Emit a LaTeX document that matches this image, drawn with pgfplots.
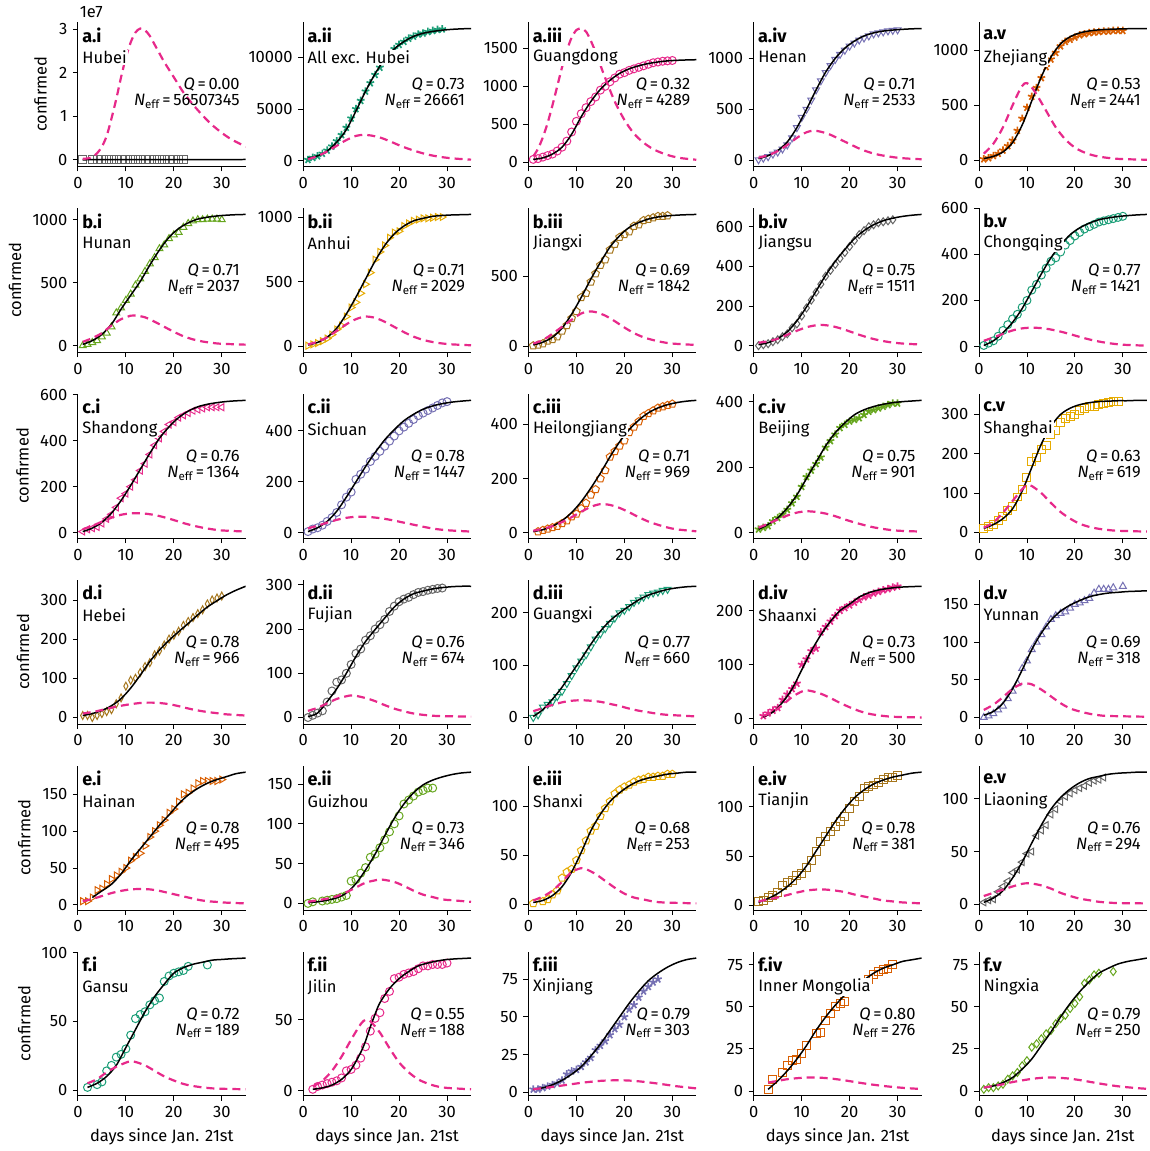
\documentclass[border=0pt]{standalone}
\usepackage{fontspec}
\setmainfont{Fira Sans}
\usepackage{pgfplots}
\pgfplotsset{compat=1.18}
\definecolor{cgray}{HTML}{666666}
\definecolor{cteal}{HTML}{1B9E77}
\definecolor{cpink}{HTML}{E7298A}
\definecolor{cpurp}{HTML}{7570B3}
\definecolor{corng}{HTML}{D95F02}
\definecolor{cgrn}{HTML}{66A61E}
\definecolor{cyel}{HTML}{E6AB02}
\definecolor{cbrn}{HTML}{A6761D}
\pgfplotsset{
 P/.style={scale only axis, width=168pt, height=144.5pt, anchor=south west,
  xmin=0, xmax=35, xtick={0,10,20,30}, enlarge y limits=0.05,
  axis x line*=bottom, axis y line*=left, axis line style={-, line width=0.9pt},
  tick align=outside, major tick length=5pt, tick style={line width=0.9pt, black},
  clip mode=individual, scaled y ticks=false,
  /pgf/number format/.cd, 1000 sep={}, assume math mode=true},
 fit/.style={black, line width=1.5pt, smooth, no marks},
 sir/.style={color=cpink, line width=2.2pt, dash pattern=on 8pt off 5pt, smooth, no marks},
 dat/.style={only marks, line width=1pt, mark size=4pt},
 st/.style={mark=star, mark options={line width=1.7pt}},
}
\newcommand{\pn}[4]{%
 \node[anchor=west,font=\bfseries\fontsize{18}{20}\selectfont,inner sep=0pt] at (rel axis cs:0.025,0.91) {#1};
 \node[anchor=west,fill=white,inner sep=1pt] at (rel axis cs:0.02,0.755) {#2};
 \node[anchor=east,inner sep=0pt] at (rel axis cs:0.965,0.565) {\textit{Q}\,=\,#3};
 \node[anchor=east,inner sep=0pt] at (rel axis cs:0.965,0.45) {\textit{N}\textsubscript{eff}\,=\,#4};}
\begin{document}
\fontsize{16.5}{19}\selectfont
\begin{tikzpicture}[font=\fontsize{16.5}{19}\selectfont]
\path (0pt,0pt) rectangle (1151pt,1151pt);
% ---------------- row a
\begin{axis}[P, at={(78pt,984.5pt)}, ytick={0,1,2,3}, ylabel={confirmed}]
\addplot[dat, cgray, mark=square, mark options={fill=cgray!25}] coordinates {(1,0.00003)(3,0.00005)(4,0.00007)(5,0.0001)(6,0.00015)(7,0.0002)(8,0.0003)(9,0.0004)(10,0.0005)(11,0.0007)(12,0.0009)(13,0.0011)(14,0.0014)(15,0.0017)(16,0.002)(17,0.0023)(18,0.0027)(19,0.003)(20,0.0033)(21,0.0036)(22,0.0048)};
\addplot[fit] coordinates {(1,0)(35,0.006)};
\addplot[sir] coordinates {(1,0.02)(2,0.03)(3,0.06)(4,0.15)(5,0.3)(6,0.55)(7,0.95)(8,1.4)(9,1.9)(10,2.35)(11,2.7)(12,2.93)(13,3.02)(14,2.98)(15,2.85)(16,2.65)(17,2.45)(18,2.25)(20,1.9)(22,1.55)(24,1.27)(26,1.02)(28,0.8)(30,0.62)(32,0.47)(35,0.3)};
\pn{a.i}{Hubei}{0.00}{56507345}
\node[anchor=south west, inner sep=0pt] at (rel axis cs:0.01,1.03) {1e7};
\end{axis}
\begin{axis}[P, at={(303.5pt,984.5pt)}, ytick={0,5000,10000}]
\addplot[dat, cteal, st] coordinates {(1,100)(2,300)(3,450)(4,700)(5,1000)(6,1400)(7,1900)(8,2500)(9,3200)(10,4100)(11,5000)(12,5800)(13,6700)(14,7500)(15,8300)(16,9000)(17,9800)(18,10300)(19,10800)(20,11200)(21,11500)(22,11800)(23,12000)(24,12200)(25,12300)(26,12450)(27,12550)(28,12650)(29,12700)};
\addplot[fit] coordinates {(1,250)(3,480)(5,950)(7,1800)(9,3000)(11,4800)(13,6700)(15,8400)(17,9800)(19,10800)(21,11500)(23,12000)(25,12300)(27,12480)(29,12600)(31,12680)(33,12730)(35,12760)};
\addplot[sir] coordinates {(1,150)(3,450)(5,900)(7,1450)(9,2000)(11,2400)(12.5,2500)(14,2450)(16,2250)(18,1900)(20,1500)(22,1150)(24,850)(26,600)(28,420)(30,290)(32,200)(35,110)};
\pn{a.ii}{All exc. Hubei}{0.73}{26661}
\end{axis}
\begin{axis}[P, at={(529pt,984.5pt)}, ytick={0,500,1000,1500}]
\addplot[dat, cpink, mark=o] coordinates {(1,40)(2,50)(3,70)(4,90)(5,110)(6,150)(7,200)(8,280)(9,400)(10,540)(11,640)(12,720)(13,800)(14,860)(15,950)(16,1000)(17,1060)(18,1110)(19,1160)(20,1180)(21,1210)(22,1230)(23,1250)(24,1270)(25,1290)(26,1310)(27,1320)(28,1330)(29,1335)(30,1340)};
\addplot[fit] coordinates {(1,40)(3,60)(5,110)(7,200)(9,370)(11,600)(13,800)(15,960)(17,1080)(19,1170)(21,1230)(23,1270)(25,1300)(27,1320)(29,1335)(31,1342)(33,1347)(35,1350)};
\addplot[sir] coordinates {(1,80)(2,180)(3,330)(4,520)(5,750)(6,1000)(7,1250)(8,1470)(9,1640)(10,1740)(11,1760)(12,1720)(13,1600)(14,1450)(15,1280)(16,1110)(18,800)(20,560)(22,380)(24,260)(26,175)(28,120)(30,80)(32,55)(35,35)};
\pn{a.iii}{Guangdong}{0.32}{4289}
\end{axis}
\begin{axis}[P, at={(754.5pt,984.5pt)}, ytick={0,500,1000}]
\addplot[dat, cpurp, mark=triangle, mark options={rotate=180}] coordinates {(1,5)(2,20)(3,35)(4,60)(5,80)(6,110)(7,150)(8,220)(9,320)(10,420)(11,500)(12,590)(13,690)(14,780)(15,860)(16,930)(17,990)(18,1040)(19,1080)(20,1120)(21,1150)(22,1180)(23,1200)(24,1220)(25,1240)(26,1250)(27,1260)(28,1270)(29,1275)(30,1280)};
\addplot[fit] coordinates {(1,15)(3,45)(5,95)(7,180)(9,320)(11,500)(13,690)(15,865)(17,1000)(19,1100)(21,1170)(23,1220)(25,1250)(27,1268)(29,1278)(31,1285)(33,1290)(35,1293)};
\addplot[sir] coordinates {(1,25)(3,50)(5,90)(7,150)(9,220)(11,275)(12.5,290)(14,280)(16,250)(18,205)(20,160)(22,115)(24,80)(26,55)(28,38)(30,25)(32,17)(35,10)};
\pn{a.iv}{Henan}{0.71}{2533}
\end{axis}
\begin{axis}[P, at={(980pt,984.5pt)}, ytick={0,500,1000}]
\addplot[dat, corng, st] coordinates {(1,10)(2,20)(3,40)(4,60)(5,90)(6,130)(7,180)(8,270)(9,380)(10,480)(11,580)(12,660)(13,750)(14,850)(15,920)(16,980)(17,1040)(18,1080)(19,1100)(20,1120)(21,1140)(22,1150)(23,1160)(24,1165)(25,1170)(26,1175)(27,1175)(28,1180)(29,1180)(30,1180)};
\addplot[fit] coordinates {(1,15)(3,35)(5,75)(7,160)(9,320)(11,540)(13,760)(15,940)(17,1060)(19,1125)(21,1160)(23,1178)(25,1188)(27,1193)(29,1196)(31,1198)(33,1199)(35,1200)};
\addplot[sir] coordinates {(1,60)(3,150)(5,300)(7,500)(8.5,640)(9.5,700)(10.5,690)(12,600)(14,450)(16,300)(18,190)(20,115)(22,70)(24,42)(26,26)(28,16)(30,10)(35,4)};
\pn{a.v}{Zhejiang}{0.53}{2441}
\end{axis}
% ---------------- row b
\begin{axis}[P, at={(78pt,798.4pt)}, ytick={0,500,1000}, ylabel={confirmed}]
\addplot[dat, cgrn, mark=triangle] coordinates {(1,0)(2,10)(3,25)(4,40)(5,70)(6,100)(7,150)(8,260)(9,300)(10,360)(11,410)(12,480)(13,530)(14,590)(15,650)(16,700)(17,770)(18,800)(19,850)(20,880)(21,900)(22,940)(23,970)(24,990)(25,1000)(26,1000)(27,1005)(28,1005)(29,1005)(30,1000)};
\addplot[fit] coordinates {(1,10)(3,40)(5,90)(7,170)(9,290)(11,400)(13,510)(15,640)(17,760)(19,860)(21,930)(23,975)(25,1005)(27,1020)(29,1030)(31,1036)(33,1040)(35,1042)};
\addplot[sir] coordinates {(1,30)(3,60)(5,100)(7,160)(9,210)(11,238)(12,240)(14,225)(16,190)(18,150)(20,110)(22,75)(24,50)(26,33)(28,22)(30,15)(35,8)};
\pn{b.i}{Hunan}{0.71}{2037}
\end{axis}
\begin{axis}[P, at={(303.5pt,798.4pt)}, ytick={0,500,1000}]
\addplot[dat, cyel, mark=triangle, mark options={rotate=-90}] coordinates {(1,5)(2,15)(3,25)(4,40)(5,60)(6,90)(7,130)(8,160)(9,230)(10,300)(11,340)(12,410)(13,480)(14,570)(15,670)(16,730)(17,780)(18,840)(19,880)(20,890)(21,930)(22,950)(23,970)(24,980)(25,990)(26,990)(27,995)(28,1000)(29,1000)};
\addplot[fit] coordinates {(1,10)(3,30)(5,70)(7,140)(9,250)(11,380)(13,520)(15,660)(17,780)(19,870)(21,930)(23,970)(25,990)(27,1005)(29,1012)(31,1016)(33,1018)(35,1020)};
\addplot[sir] coordinates {(1,15)(3,35)(5,70)(7,120)(9,170)(11,210)(13,230)(15,220)(17,190)(19,150)(21,110)(23,75)(25,50)(27,33)(29,22)(31,15)(35,8)};
\pn{b.ii}{Anhui}{0.71}{2029}
\end{axis}
\begin{axis}[P, at={(529pt,798.4pt)}, ytick={0,500,1000}]
\addplot[dat, cbrn, mark=pentagon] coordinates {(1,5)(2,10)(3,20)(4,40)(5,50)(6,70)(7,110)(8,150)(9,200)(10,250)(11,350)(12,380)(13,460)(14,520)(15,580)(16,620)(17,690)(18,730)(19,780)(20,800)(21,820)(22,860)(23,870)(24,900)(25,910)(26,920)(27,930)(28,930)(29,935)};
\addplot[fit] coordinates {(1,10)(3,30)(5,65)(7,130)(9,230)(11,350)(13,480)(15,600)(17,710)(19,790)(21,850)(23,885)(25,910)(27,925)(29,933)(31,938)(33,941)(35,943)};
\addplot[sir] coordinates {(1,20)(3,45)(5,90)(7,140)(9,190)(11,235)(12.5,250)(14,245)(16,220)(18,180)(20,135)(22,95)(24,65)(26,45)(28,30)(30,20)(35,10)};
\pn{b.iii}{Jiangxi}{0.69}{1842}
\end{axis}
\begin{axis}[P, at={(754.5pt,798.4pt)}, ytick={0,200,400,600}]
\addplot[dat, cgray, mark=diamond] coordinates {(1,0)(2,5)(3,10)(4,20)(5,30)(6,45)(7,60)(8,90)(9,110)(10,150)(11,190)(12,230)(13,270)(14,310)(15,350)(16,380)(17,410)(18,440)(19,470)(20,500)(21,530)(22,560)(23,580)(24,600)(25,610)(26,620)(27,625)(28,630)(29,635)};
\addplot[fit] coordinates {(1,5)(3,15)(5,35)(7,70)(9,125)(11,195)(13,275)(15,355)(17,425)(19,485)(21,540)(23,580)(25,610)(27,630)(29,643)(31,652)(33,658)(35,662)};
\addplot[sir] coordinates {(1,15)(3,22)(5,35)(7,55)(9,75)(11,93)(13,103)(14,105)(16,100)(18,88)(20,72)(22,55)(24,40)(26,28)(28,19)(30,13)(32,9)(35,6)};
\pn{b.iv}{Jiangsu}{0.75}{1511}
\end{axis}
\begin{axis}[P, at={(980pt,798.4pt)}, ytick={0,200,400,600}]
\addplot[dat, cteal, mark=o] coordinates {(1,5)(2,15)(3,25)(4,45)(5,70)(6,95)(7,120)(8,140)(9,170)(10,200)(11,245)(12,270)(13,310)(14,340)(15,370)(16,385)(17,410)(18,440)(19,460)(20,480)(21,495)(22,510)(23,520)(24,530)(25,540)(26,545)(27,550)(28,555)(29,560)(30,565)};
\addplot[fit] coordinates {(1,5)(3,25)(5,60)(7,105)(9,165)(11,240)(13,315)(15,385)(17,440)(19,485)(21,515)(23,535)(25,550)(27,558)(29,564)(31,568)(33,571)(35,573)};
\addplot[sir] coordinates {(1,25)(3,40)(5,55)(7,70)(9,79)(11,82)(13,80)(15,74)(17,65)(19,54)(21,42)(23,31)(25,22)(27,15)(29,10)(31,7)(35,4)};
\pn{b.v}{Chongqing}{0.77}{1421}
\end{axis}
% ---------------- row c
\begin{axis}[P, at={(78pt,612.3pt)}, ytick={0,200,400,600}, ylabel={confirmed}]
\addplot[dat, cpink, mark=triangle, mark options={rotate=90}] coordinates {(1,5)(2,15)(3,20)(4,25)(5,40)(6,60)(7,80)(8,110)(9,150)(10,170)(11,200)(12,230)(13,270)(14,300)(15,340)(16,380)(17,410)(18,440)(19,470)(20,480)(21,500)(22,510)(23,520)(24,530)(25,535)(26,540)(27,545)(28,545)(29,545)(30,545)};
\addplot[fit] coordinates {(1,5)(3,20)(5,45)(7,85)(9,140)(11,205)(13,275)(15,345)(17,410)(19,460)(21,500)(23,528)(25,547)(27,558)(29,565)(31,570)(33,573)(35,575)};
\addplot[sir] coordinates {(1,15)(3,30)(5,48)(7,65)(9,78)(11,84)(12.5,85)(14,83)(16,77)(18,67)(20,55)(22,42)(24,31)(26,22)(28,15)(30,10)(35,5)};
\pn{c.i}{Shandong}{0.76}{1364}
\end{axis}
\begin{axis}[P, at={(303.5pt,612.3pt)}, ytick={0,200,400}]
\addplot[dat, cpurp, mark=o] coordinates {(1,5)(2,15)(3,20)(4,30)(5,45)(6,60)(7,80)(8,110)(9,140)(10,160)(11,210)(12,230)(13,250)(14,280)(15,300)(16,320)(17,340)(18,360)(19,380)(20,400)(21,415)(22,430)(23,445)(24,460)(25,470)(26,480)(27,490)(28,500)(29,510)(30,515)};
\addplot[fit] coordinates {(1,5)(3,20)(5,45)(7,85)(9,140)(11,200)(13,260)(15,315)(17,365)(19,405)(21,440)(23,465)(25,485)(27,498)(29,507)(31,513)(33,517)(35,520)};
\addplot[sir] coordinates {(1,18)(3,28)(5,40)(7,51)(9,59)(11,63)(13,63)(15,60)(17,55)(19,48)(21,40)(23,32)(25,24)(27,17)(29,12)(31,9)(35,5)};
\pn{c.ii}{Sichuan}{0.78}{1447}
\end{axis}
\begin{axis}[P, at={(529pt,612.3pt)}, ytick={0,200,400}]
\addplot[dat, corng, mark=pentagon] coordinates {(2,5)(3,10)(4,15)(5,20)(6,25)(7,35)(8,45)(9,60)(10,70)(11,90)(12,110)(13,140)(14,160)(15,200)(16,230)(17,280)(18,300)(19,320)(20,340)(21,370)(22,390)(23,410)(24,430)(25,440)(26,450)(27,460)(28,465)(29,470)(30,475)};
\addplot[fit] coordinates {(1,5)(3,12)(5,25)(7,45)(9,75)(11,115)(13,165)(15,220)(17,280)(19,335)(21,380)(23,415)(25,442)(27,460)(29,472)(31,480)(33,485)(35,488)};
\addplot[sir] coordinates {(1,8)(3,15)(5,25)(7,40)(9,58)(11,78)(13,96)(15,106)(17,103)(19,92)(21,76)(23,58)(25,42)(27,30)(29,20)(31,13)(35,6)};
\pn{c.iii}{Heilongjiang}{0.71}{969}
\end{axis}
\begin{axis}[P, at={(754.5pt,612.3pt)}, ytick={0,200,400}]
\addplot[dat, cgrn, st] coordinates {(1,10)(2,15)(3,20)(4,35)(5,45)(6,55)(7,70)(8,90)(9,110)(10,140)(11,170)(12,190)(13,210)(14,230)(15,260)(16,280)(17,300)(18,320)(19,330)(20,340)(21,345)(22,350)(23,360)(24,370)(25,375)(26,380)(27,385)(28,390)(29,395)(30,395)};
\addplot[fit] coordinates {(1,10)(3,25)(5,45)(7,75)(9,115)(11,165)(13,215)(15,265)(17,305)(19,335)(21,360)(23,375)(25,385)(27,392)(29,397)(31,400)(33,402)(35,404)};
\addplot[sir] coordinates {(1,15)(3,27)(5,40)(7,52)(9,61)(11,65)(13,63)(15,58)(17,50)(19,40)(21,31)(23,23)(25,16)(27,11)(29,7)(31,5)(35,3)};
\pn{c.iv}{Beijing}{0.75}{901}
\end{axis}
\begin{axis}[P, at={(980pt,612.3pt)}, ytick={0,100,200,300}]
\addplot[dat, cyel, mark=square] coordinates {(1,10)(2,15)(3,20)(4,30)(5,40)(6,55)(7,65)(8,90)(9,110)(10,140)(11,180)(12,190)(13,210)(14,220)(15,250)(16,260)(17,280)(18,290)(19,295)(20,300)(21,310)(22,315)(23,320)(24,320)(25,325)(26,328)(27,330)(28,332)(29,333)};
\addplot[fit] coordinates {(1,10)(3,20)(5,35)(7,60)(9,105)(11,165)(13,225)(15,270)(17,300)(19,316)(21,325)(23,330)(25,333)(27,334)(29,335)(31,335)(33,336)(35,336)};
\addplot[sir] coordinates {(1,12)(3,25)(5,50)(7,80)(9,110)(10,120)(11,118)(13,100)(15,75)(17,52)(19,35)(21,22)(23,14)(25,9)(27,6)(29,4)(35,2)};
\pn{c.v}{Shanghai}{0.63}{619}
\end{axis}
% ---------------- row d
\begin{axis}[P, at={(78pt,426.2pt)}, ytick={0,100,200,300}, ylabel={confirmed}]
\addplot[dat, cbrn, mark=diamond, mark options={xscale=0.7}] coordinates {(1,5)(2,5)(3,0)(4,5)(5,10)(6,15)(7,20)(8,35)(9,50)(10,80)(11,95)(12,100)(13,115)(14,130)(15,140)(16,160)(17,170)(18,185)(19,200)(20,210)(21,220)(22,235)(23,245)(24,255)(25,265)(26,275)(27,290)(28,300)(29,305)(30,310)};
\addplot[fit] coordinates {(1,5)(3,10)(5,18)(7,30)(9,48)(11,75)(13,108)(15,143)(17,172)(19,197)(21,219)(23,240)(25,262)(27,282)(29,298)(31,313)(33,325)(35,335)};
\addplot[sir] coordinates {(1,10)(3,14)(5,19)(7,25)(9,30)(11,34)(13,37)(15,38)(17,37)(19,34)(21,29)(23,23)(25,18)(27,14)(29,11)(31,8)(35,5)};
\pn{d.i}{Hebei}{0.78}{966}
\end{axis}
\begin{axis}[P, at={(303.5pt,426.2pt)}, ytick={0,100,200,300}]
\addplot[dat, cgray, mark=o] coordinates {(1,0)(2,5)(3,10)(4,15)(5,35)(6,60)(7,80)(8,85)(9,100)(10,120)(11,145)(12,155)(13,175)(14,185)(15,200)(16,210)(17,222)(18,240)(19,252)(20,262)(21,268)(22,272)(23,278)(24,283)(25,285)(26,288)(27,290)(28,292)(29,293)};
\addplot[fit] coordinates {(1,2)(3,10)(5,36)(7,65)(9,100)(11,138)(13,172)(15,199)(17,225)(19,250)(21,268)(23,280)(25,286)(27,291)(29,294)(31,296)(33,297)(35,297)};
\addplot[sir] coordinates {(1,15)(3,22)(5,32)(7,42)(9,48)(10,50)(11,49)(13,44)(15,37)(17,28)(19,20)(21,14)(23,9)(25,6)(27,4)(29,3)(35,2)};
\pn{d.ii}{Fujian}{0.76}{674}
\end{axis}
\begin{axis}[P, at={(529pt,426.2pt)}, ytick={0,100,200}]
\addplot[dat, cteal, mark=triangle, mark options={rotate=180}] coordinates {(1,0)(2,5)(3,20)(4,25)(5,30)(6,40)(7,50)(8,65)(9,80)(10,95)(11,108)(12,120)(13,135)(14,150)(15,160)(16,170)(17,180)(18,190)(19,200)(20,205)(21,212)(22,220)(23,225)(24,230)(25,235)(26,238)(27,240)(28,243)(29,245)};
\addplot[fit] coordinates {(1,2)(3,15)(5,35)(7,58)(9,85)(11,112)(13,140)(15,165)(17,185)(19,200)(21,213)(23,225)(25,234)(27,240)(29,245)(31,248)(33,250)(35,251)};
\addplot[sir] coordinates {(1,12)(3,18)(5,24)(7,29)(9,32)(11,33)(13,32)(15,30)(17,26)(19,22)(21,17)(23,13)(25,10)(27,7)(29,5)(31,4)(35,2)};
\pn{d.iii}{Guangxi}{0.77}{660}
\end{axis}
\begin{axis}[P, at={(754.5pt,426.2pt)}, ytick={0,100,200}]
\addplot[dat, cpink, st] coordinates {(2,5)(3,10)(4,15)(5,20)(6,35)(7,45)(8,55)(9,65)(10,100)(11,110)(12,125)(13,130)(14,160)(15,170)(16,180)(17,190)(18,200)(19,205)(20,210)(21,215)(22,220)(23,225)(24,228)(25,232)(26,235)(27,238)(28,240)(29,243)(30,245)};
\addplot[fit] coordinates {(2,3)(4,12)(6,30)(8,55)(10,90)(12,125)(14,155)(16,180)(18,200)(20,212)(22,225)(24,233)(26,238)(28,241)(30,243)(32,244)(35,245)};
\addplot[sir] coordinates {(2,5)(4,12)(6,25)(8,40)(10,50)(11,52)(12,51)(14,46)(16,38)(18,29)(20,21)(22,14)(24,9)(26,6)(28,4)(30,3)(35,2)};
\pn{d.iv}{Shaanxi}{0.73}{500}
\end{axis}
\begin{axis}[P, at={(980pt,426.2pt)}, ytick={0,50,100,150}]
\addplot[dat, cpurp, mark=triangle] coordinates {(1,0)(2,2)(3,5)(4,10)(5,15)(6,25)(7,35)(8,45)(9,65)(10,75)(11,90)(12,100)(13,110)(14,120)(15,130)(16,135)(17,138)(18,140)(19,145)(20,150)(21,152)(22,155)(23,158)(24,165)(25,170)(26,170)(27,170)(28,172)(30,174)};
\addplot[fit] coordinates {(1,3)(3,8)(5,19)(7,38)(9,63)(11,90)(13,112)(15,129)(17,141)(19,149)(21,155)(23,160)(25,163)(27,165)(29,166)(31,167)(33,167.5)(35,168)};
\addplot[sir] coordinates {(1,10)(3,17)(5,27)(7,38)(9,45)(10,45)(11,44)(13,37)(15,28)(17,19)(19,12)(21,8)(23,5)(25,3)(27,2)(35,1)};
\pn{d.v}{Yunnan}{0.69}{318}
\end{axis}
% ---------------- row e
\begin{axis}[P, at={(78pt,240.1pt)}, ytick={0,50,100,150}, ylabel={confirmed}]
\addplot[dat, corng, mark=triangle, mark options={rotate=-90}] coordinates {(1,5)(2,5)(3,10)(4,20)(5,22)(6,28)(7,35)(8,40)(9,45)(10,50)(11,60)(12,65)(13,70)(14,80)(15,92)(16,100)(17,108)(18,115)(19,125)(20,130)(21,140)(22,150)(23,152)(24,158)(25,165)(26,168)(27,168)(28,168)(29,168)(30,170)};
\addplot[fit] coordinates {(3,10)(5,19)(7,28)(9,42)(11,60)(13,76)(15,92)(17,108)(19,122)(21,137)(23,149)(25,158)(27,165)(29,170)(31,174)(33,178)(35,180)};
\addplot[sir] coordinates {(1,5)(3,8)(5,12)(7,16)(9,19)(11,21)(13,21.5)(15,21)(17,19)(19,16)(21,13)(23,10)(25,7)(27,5)(29,4)(31,3)(35,2)};
\pn{e.i}{Hainan}{0.78}{495}
\end{axis}
\begin{axis}[P, at={(303.5pt,240.1pt)}, ytick={0,50,100,150}]
\addplot[dat, cgrn, mark=o] coordinates {(1,0)(2,2)(4,3)(5,4)(6,5)(7,6)(8,8)(9,10)(10,28)(11,30)(12,38)(13,45)(14,58)(15,62)(16,70)(17,80)(18,90)(19,100)(20,110)(21,125)(22,130)(23,135)(24,140)(25,142)(26,145)(27,145)};
\addplot[fit] coordinates {(1,1)(3,2)(5,4)(7,7)(9,13)(11,25)(13,42)(15,62)(17,85)(19,107)(21,125)(23,139)(25,149)(27,155)(29,159)(31,162)(33,164)(35,165)};
\addplot[sir] coordinates {(1,2)(3,4)(5,6)(7,9)(9,14)(11,20)(13,26)(15,29)(16,30)(17,29.5)(19,27)(21,22)(23,16)(25,11)(27,8)(29,5)(31,4)(35,2)};
\pn{e.ii}{Guizhou}{0.73}{346}
\end{axis}
\begin{axis}[P, at={(529pt,240.1pt)}, ytick={0,50,100}]
\addplot[dat, cyel, mark=pentagon] coordinates {(1,1)(3,3)(4,5)(5,10)(6,14)(7,27)(8,33)(9,36)(10,45)(11,55)(12,65)(13,75)(14,80)(15,90)(16,98)(17,105)(18,113)(19,117)(20,120)(21,122)(22,125)(23,127)(24,128)(25,130)(26,130)(27,131)(28,131)(29,133)(30,133)};
\addplot[fit] coordinates {(1,2)(3,4)(5,9)(7,18)(9,33)(11,53)(13,75)(15,92)(17,105)(19,114)(21,121)(23,126)(25,129)(27,131)(29,133)(31,134)(33,135)(35,135)};
\addplot[sir] coordinates {(1,4)(3,8)(5,14)(7,23)(9,33)(11,37)(12,36)(14,31)(16,24)(18,17)(20,11)(22,7)(24,5)(26,3)(28,2)(35,1)};
\pn{e.iii}{Shanxi}{0.68}{253}
\end{axis}
\begin{axis}[P, at={(754.5pt,240.1pt)}, ytick={0,50,100}]
\addplot[dat, cbrn, mark=square] coordinates {(1,4)(2,5)(3,8)(4,10)(5,13)(6,20)(7,23)(8,25)(9,30)(10,32)(11,38)(12,45)(13,55)(14,65)(15,70)(16,75)(17,80)(18,85)(19,90)(20,98)(21,105)(22,110)(23,118)(24,120)(25,122)(26,125)(27,128)(28,130)(29,130)(30,132)};
\addplot[fit] coordinates {(1,3)(3,7)(5,12)(7,19)(9,28)(11,40)(13,55)(15,70)(17,85)(19,98)(21,109)(23,117)(25,123)(27,127)(29,130)(31,132)(33,134)(35,135)};
\addplot[sir] coordinates {(1,4)(3,6)(5,8)(7,10.5)(9,13)(11,15)(13,16)(15,16)(17,15)(19,13.5)(21,11)(23,9)(25,7)(27,5)(29,4)(31,3)(35,2)};
\pn{e.iv}{Tianjin}{0.78}{381}
\end{axis}
\begin{axis}[P, at={(980pt,240.1pt)}, ytick={0,50,100}]
\addplot[dat, cgray, mark=triangle, mark options={rotate=90}] coordinates {(1,2)(2,4)(3,5)(4,12)(5,17)(6,22)(7,30)(8,33)(9,40)(10,48)(11,50)(12,65)(13,70)(14,75)(15,85)(16,90)(17,97)(18,102)(19,105)(20,108)(21,110)(22,112)(23,115)(24,117)(25,118)(26,120)};
\addplot[fit] coordinates {(1,2)(3,6)(5,13)(7,25)(9,40)(11,58)(13,75)(15,90)(17,101)(19,109)(21,115)(23,119)(25,121)(27,123)(29,124)(31,124.5)(33,125)(35,125)};
\addplot[sir] coordinates {(1,8)(3,11)(5,14)(7,17)(9,19.5)(10,20)(11,19.8)(13,18)(15,15)(17,11)(19,8)(21,5.5)(23,4)(25,2.5)(27,1.8)(29,1.3)(35,1)};
\pn{e.v}{Liaoning}{0.76}{294}
\end{axis}
% ---------------- row f
\begin{axis}[P, at={(78pt,54pt)}, ytick={0,50,100}, ylabel={confirmed}, xlabel={days since Jan. 21st}]
\addplot[dat, cteal, mark=o] coordinates {(2,2)(4,4)(5,6)(6,14)(7,18)(8,24)(9,26)(10,30)(11,40)(12,52)(13,55)(14,57)(15,62)(16,65)(17,67)(18,79)(19,83)(20,85)(21,86)(22,87)(23,90)(27,91)};
\addplot[fit] coordinates {(2,2)(4,5)(6,10)(8,18)(10,31)(12,44)(14,57)(16,68)(18,77)(20,85)(22,89)(24,91.5)(26,93)(28,94.5)(30,95)(32,95.5)(35,96)};
\addplot[sir] coordinates {(2,5)(4,8)(6,13)(8,17)(10,20)(11,21)(12,20.5)(14,18)(16,14)(18,10)(20,7)(22,4.5)(24,3)(26,2)(28,1.3)(30,1)(35,0.6)};
\pn{f.i}{Gansu}{0.72}{189}
\end{axis}
\begin{axis}[P, at={(303.5pt,54pt)}, ytick={0,50}, xlabel={days since Jan. 21st}]
\addplot[dat, cpink, mark=o] coordinates {(2,1)(3,3)(4,4)(5,5)(6,6)(7,7)(8,9)(9,14)(10,15)(11,18)(12,23)(13,31)(14,42)(15,51)(16,55)(17,65)(18,70)(19,79)(20,80)(21,82)(22,83)(23,84)(24,86)(25,88)(26,88)(27,89)(28,89)(29,89)(30,90)};
\addplot[fit] coordinates {(2,1)(4,2)(6,4)(8,8)(10,15)(12,27)(13,35)(14,45)(15,54)(16,62)(18,72)(20,79)(22,84)(24,88)(26,90)(28,91.5)(30,92.5)(32,93)(35,93.5)};
\addplot[sir] coordinates {(2,3)(4,7)(6,14)(8,24)(10,36)(12,47)(13,50)(14,49)(16,41)(18,30)(20,20)(22,13)(24,8)(26,5)(28,3)(30,2)(35,1)};
\pn{f.ii}{Jilin}{0.55}{188}
\end{axis}
\begin{axis}[P, at={(529pt,54pt)}, ytick={0,25,50,75}, xlabel={days since Jan. 21st}]
\addplot[dat, cpurp, st] coordinates {(1,2)(2,2)(3,3)(4,4)(5,5)(6,6)(7,8)(8,12)(9,14)(10,15)(11,17)(12,20)(13,23)(14,28)(15,31)(16,34)(17,38)(18,42)(19,45)(20,50)(21,55)(22,58)(23,63)(24,67)(25,70)(26,73)(27,75)};
\addplot[fit] coordinates {(1,2)(3,3)(5,5)(7,8)(9,12)(11,17)(13,24)(15,32)(17,41)(19,50)(21,59)(23,67)(25,74)(27,79)(29,83)(31,86)(33,88)(35,89)};
\addplot[sir] coordinates {(1,2)(3,2.8)(5,3.6)(7,4.5)(9,5.4)(11,6.3)(13,7)(15,7.6)(17,7.9)(19,8)(21,7.8)(23,7.3)(25,6.6)(27,5.8)(29,4.9)(31,4)(33,3.3)(35,2.6)};
\pn{f.iii}{Xinjiang}{0.79}{303}
\end{axis}
\begin{axis}[P, at={(754.5pt,54pt)}, ytick={0,25,50,75}, xlabel={days since Jan. 21st}]
\addplot[dat, corng, mark=square] coordinates {(3,1)(4,7)(6,11)(7,15)(8,18)(9,19)(10,22)(11,27)(13,34)(14,35)(15,42)(16,46)(17,50)(18,52)(19,53)(24,66)(25,69)(26,71)(27,72)(28,73)(29,75)};
\addplot[fit] coordinates {(3,1)(5,6)(7,12)(9,19)(11,27)(13,36)(15,44)(17,51)(19,57)(21,62)(23,66)(25,70)(27,73)(29,75)(31,77)(33,78)(35,79)};
\addplot[sir] coordinates {(3,5)(5,6)(7,7)(9,7.6)(11,8)(13,8)(15,7.7)(17,7.1)(19,6.3)(21,5.4)(23,4.5)(25,3.7)(27,3)(29,2.4)(31,1.9)(33,1.5)(35,1.2)};
\pn{f.iv}{Inner Mongolia}{0.80}{276}
\end{axis}
\begin{axis}[P, at={(980pt,54pt)}, ytick={0,25,50,75}, xlabel={days since Jan. 21st}]
\addplot[dat, cgrn, mark=diamond] coordinates {(1,1)(2,2)(3,2)(4,3)(5,4)(6,7)(7,9)(8,11)(9,15)(10,18)(11,26)(12,28)(13,31)(14,34)(15,36)(16,40)(17,43)(18,45)(19,49)(20,52)(21,56)(22,64)(23,66)(24,69)(25,70)(28,71)};
\addplot[fit] coordinates {(1,2)(3,3)(5,5)(7,8)(9,13)(11,19)(13,27)(15,35)(17,44)(19,52)(21,59)(23,65)(25,70)(27,73)(29,75.5)(31,77)(33,78)(35,79)};
\addplot[sir] coordinates {(1,2)(3,3)(5,4)(7,5.3)(9,6.3)(11,7.2)(13,7.8)(15,8)(17,7.8)(19,7.3)(21,6.5)(23,5.5)(25,4.5)(27,3.6)(29,2.8)(31,2.2)(33,1.7)(35,1.3)};
\pn{f.v}{Ningxia}{0.79}{250}
\end{axis}
\end{tikzpicture}
\end{document}
